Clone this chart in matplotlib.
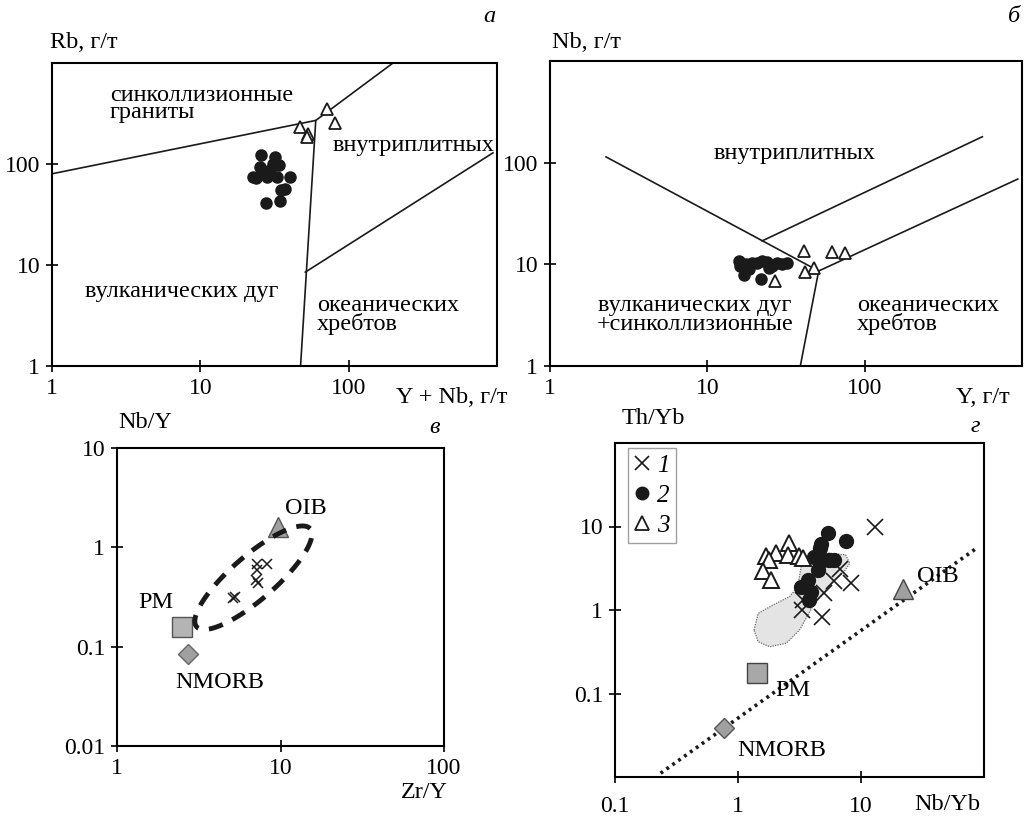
import numpy as np
import matplotlib
matplotlib.use('Agg')
import matplotlib.pyplot as plt
from matplotlib.lines import Line2D
from matplotlib.patches import Polygon

plt.rcParams['font.family'] = ['Liberation Serif', 'DejaVu Serif']

# ---------------- data ----------------
# panel a: Rb vs Y+Nb
a_circ_x = [25.7, 32, 34, 25.4, 29.6, 23.6, 28.2, 33, 40.5, 34.8, 37.5, 27.5, 34.4, 26, 31, 22.8]
a_circ_y = [123, 118, 98, 94, 87, 72, 75, 75, 75, 55, 56, 41, 43.5, 81, 101, 75]
a_tri_x = [47, 53, 52.6, 71, 81.5]
a_tri_y = [234, 200, 183, 351, 253]
a_bound1_x = [1, 60]
a_bound1_y = [80, 270]
a_bound2_x = [47.4, 60, 199]
a_bound2_y = [1, 270, 1000]
a_bound3_x = [51, 940]
a_bound3_y = [8.5, 129]

# panel b: Nb vs Y
b_circ_x = [15.8, 17.5, 19.3, 20.7, 22.3, 24, 25.8, 27.8, 29.9, 32.2, 17, 18.3, 21.8, 24.6, 16.2]
b_circ_y = [10.8, 10, 10.4, 10.4, 10.8, 10.6, 9.6, 10.2, 10, 10.4, 7.9, 8.9, 7.2, 9.3, 9.6]
b_tri_x = [41, 62, 75, 47.5, 41.7, 27]
b_tri_y = [13.5, 13.1, 12.8, 9.3, 8.4, 6.8]
b_bound1_x = [2.27, 51]
b_bound1_y = [114, 8.6]
b_bound2_x = [22.3, 560]
b_bound2_y = [17, 180]
b_bound3_x = [51, 940]
b_bound3_y = [8.6, 69]
b_bound4_x = [51, 39]
b_bound4_y = [8.6, 1]

# panel c: Nb/Y vs Zr/Y
c_cross_x = [5.1, 5.26, 7.2, 8.3, 7.15, 7.08, 7.3]
c_cross_y = [0.312, 0.316, 0.686, 0.675, 0.587, 0.473, 0.438]
c_oib = (9.7, 1.6)
c_pm = (2.51, 0.156)
c_nmorb = (2.73, 0.0835)
c_ell_center = (0.834, -0.306)      # log10 units
c_ell_major = (0.347, 0.494)
c_ell_minor = (-0.088, 0.167)

# panel d: Th/Yb vs Nb/Yb
d_cross_x = [13.1, 6.8, 8.3, 6.0, 5.0, 3.3, 4.8, 3.4]
d_cross_y = [9.8, 3.1, 2.1, 2.2, 1.6, 1.0, 0.83, 1.3]
d_circ_x = [5.35, 7.5, 4.73, 4.18, 4.87, 6.05, 4.44, 3.69, 3.26, 3.8, 3.93, 4.6, 5.5]
d_circ_y = [8.3, 6.7, 6.1, 4.37, 4.0, 4.0, 3.0, 2.29, 1.87, 1.32, 1.66, 5.5, 4.0]
d_tri_x = [2.6, 2.05, 1.7, 1.78, 2.55, 3.16, 3.4, 1.6, 1.87]
d_tri_y = [6.4, 4.8, 4.4, 4.0, 4.6, 4.4, 4.2, 2.9, 2.3]
d_oib = (21.8, 1.77)
d_pm = (1.44, 0.174)
d_nmorb = (0.77, 0.039)
d_array_x = [0.235, 87]
d_array_y = [0.0111, 5.5]
d_field_x = [1.35, 1.46, 1.93, 2.63, 3.06, 3.26, 3.93, 5.5, 7.5, 8.1, 7.3, 5.9, 4.9, 4.05,
             3.16, 2.47, 1.81, 1.46]
d_field_y = [0.575, 0.91, 1.15, 1.45, 1.9, 3.3, 4.37, 4.8, 4.57, 3.63, 2.88, 2.19, 1.58, 1.1,
             0.575, 0.4, 0.363, 0.417]

# ---------------- figure ----------------
W, H = 1027, 817
fig = plt.figure(figsize=(W / 100, H / 100), dpi=100)

FS = 17.5
TFS = 17


def axpix(l, t, r, b):
    ax = fig.add_axes([l / W, 1 - b / H, (r - l) / W, (b - t) / H])
    ax.set_xscale('log')
    ax.set_yscale('log')
    ax.minorticks_off()
    for s in ax.spines.values():
        s.set_linewidth(1.5)
    ax.tick_params(direction='inout', length=9, width=1.2, labelsize=TFS, pad=4)
    return ax


def ftext(x, y, s, **kw):
    kw.setdefault('fontsize', FS)
    fig.text(x / W, 1 - y / H, s, **kw)


def ticks(ax, xt, xl, yt, yl):
    ax.set_xticks(xt)
    ax.set_xticklabels(xl)
    ax.set_yticks(yt)
    ax.set_yticklabels(yl)
    ax.minorticks_off()


blk = '#1a1a1a'

# ---- panel a ----
ax = axpix(52, 63, 497, 366)
ax.set_xlim(1, 1000)
ax.set_ylim(1, 1000)
ticks(ax, [1, 10, 100], ['1', '10', '100'], [1, 10, 100], ['1', '10', '100'])
for bx, by in [(a_bound1_x, a_bound1_y), (a_bound2_x, a_bound2_y), (a_bound3_x, a_bound3_y)]:
    ax.plot(bx, by, color=blk, lw=1.2)
ax.plot(a_circ_x, a_circ_y, 'o', color=blk, ms=8, ls='none')
ax.plot(a_tri_x, a_tri_y, '^', mfc='white', mec=blk, mew=1.3, ms=8.5, ls='none')
ftext(110, 104, 'синколлизионные\nграниты', va='center', linespacing=0.8)
ftext(333, 146, 'внутриплитных', va='center')
ftext(85, 292, 'вулканических дуг', va='center')
ftext(317, 315, 'океанических\nхребтов', va='center', linespacing=0.85)
ftext(50, 43, 'Rb, г/т', va='center')
ftext(507, 397, 'Y + Nb, г/т', va='center', ha='right')
ftext(495, 17, 'а', va='center', ha='right', style='italic')

# ---- panel b ----
ax = axpix(550, 61, 1022, 366)
ax.set_xlim(1, 1000)
ax.set_ylim(1, 1000)
ticks(ax, [1, 10, 100], ['1', '10', '100'], [1, 10, 100], ['1', '10', '100'])
for bx, by in [(b_bound1_x, b_bound1_y), (b_bound2_x, b_bound2_y),
               (b_bound3_x, b_bound3_y), (b_bound4_x, b_bound4_y)]:
    ax.plot(bx, by, color=blk, lw=1.2)
ax.plot(b_circ_x, b_circ_y, 'o', color=blk, ms=8, ls='none')
ax.plot(b_tri_x, b_tri_y, '^', mfc='white', mec=blk, mew=1.3, ms=8.5, ls='none')
ftext(795, 154, 'внутриплитных', va='center', ha='center')
ftext(695, 315, 'вулканических дуг\n+синколлизионные', va='center', ha='center', linespacing=0.85)
ftext(857, 315, 'океанических\nхребтов', va='center', linespacing=0.85)
ftext(552, 43, 'Nb, г/т', va='center')
ftext(1010, 397, 'Y, г/т', va='center', ha='right')
ftext(1020, 17, 'б', va='center', ha='right', style='italic')

# ---- panel c ----
ax = axpix(117, 448, 444, 746)
ax.set_xlim(1, 100)
ax.set_ylim(0.01, 10)
ticks(ax, [1, 10, 100], ['1', '10', '100'], [0.01, 0.1, 1, 10], ['0.01', '0.1', '1', '10'])
ax.plot(*c_pm, 's', mfc='#b4b4b4', mec='#555555', mew=1, ms=15)
ax.plot(*c_nmorb, 'D', mfc='#a0a0a0', mec='#666666', mew=1, ms=10)
ax.plot(*c_oib, '^', mfc='#a0a0a0', mec='#555555', mew=1, ms=15)
t = np.linspace(0, 2 * np.pi, 300)
ex = c_ell_center[0] + c_ell_major[0] * np.cos(t) + c_ell_minor[0] * np.sin(t)
ey = c_ell_center[1] + c_ell_major[1] * np.cos(t) + c_ell_minor[1] * np.sin(t)
ax.plot(10 ** ex, 10 ** ey, color=blk, lw=3.5, ls=(0, (3, 2.2)), zorder=4)
ax.plot(c_cross_x, c_cross_y, 'x', color=blk, ms=7, mew=1.1, ls='none', zorder=5)
ftext(285, 508, 'OIB', va='center')
ftext(138, 602, 'PM', va='center')
ftext(175, 683, 'NMORB', va='center')
ftext(118, 422, 'Nb/Y', va='center')
ftext(448, 792, 'Zr/Y', va='center', ha='right')
ftext(440, 428, 'в', va='center', ha='right', style='italic')

# ---- panel d ----
ax = axpix(615, 443, 984, 777)
ax.set_xlim(0.1, 100)
ax.set_ylim(0.01, 100)
ticks(ax, [0.1, 1, 10], ['0.1', '1', '10'], [0.1, 1, 10], ['0.1', '1', '10'])
ax.tick_params(axis='x', pad=9)
ax.add_patch(Polygon(np.column_stack([d_field_x, d_field_y]), closed=True,
                     facecolor='#e4e4e4', edgecolor='#666666', lw=0.9, ls=(0, (1, 1)), zorder=1))
ax.plot(d_array_x, d_array_y, color=blk, lw=2.6, ls=(0, (0.8, 1.2)), zorder=2)
ax.plot(*d_pm, 's', mfc='#a8a8a8', mec='#444444', mew=1, ms=14, zorder=3)
ax.plot(*d_nmorb, 'D', mfc='#a0a0a0', mec='#555555', mew=1, ms=10, zorder=3)
ax.plot(*d_oib, '^', mfc='#a0a0a0', mec='#444444', mew=1, ms=15, zorder=3)
ax.plot(d_tri_x, d_tri_y, '^', mfc='white', mec=blk, mew=1.4, ms=11, ls='none', zorder=4)
ax.plot(d_circ_x, d_circ_y, 'o', color=blk, ms=10, ls='none', zorder=5)
ax.plot(d_cross_x, d_cross_y, 'x', color=blk, ms=11, mew=1.2, ls='none', zorder=6)
handles = [Line2D([], [], marker='x', color=blk, ls='none', ms=10, mew=1.2),
           Line2D([], [], marker='o', color=blk, ls='none', ms=9),
           Line2D([], [], marker='^', mfc='white', mec=blk, mew=1.3, ls='none', ms=10)]
leg = ax.legend(handles, ['1', '2', '3'], loc='upper left', bbox_to_anchor=(13 / 369, 1 - 5 / 334),
                borderaxespad=0, frameon=True, fancybox=False, handlelength=0.6,
                handletextpad=0.3, borderpad=0.25, labelspacing=0.3,
                prop={'style': 'italic', 'size': 18})
leg.get_frame().set_edgecolor('#888888')
leg.get_frame().set_linewidth(1.0)
ftext(917, 577, 'OIB', va='center')
ftext(775, 690, 'PM', va='center')
ftext(737, 750, 'NMORB', va='center')
ftext(622, 418, 'Th/Yb', va='center')
ftext(980, 805, 'Nb/Yb', va='center', ha='right')
ftext(980, 427, 'г', va='center', ha='right', style='italic')

fig.savefig('out.png', dpi=100)
